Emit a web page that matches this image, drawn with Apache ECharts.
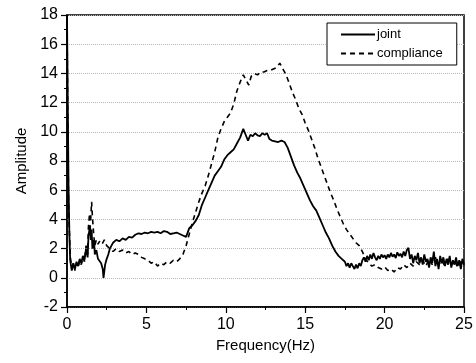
<!DOCTYPE html>
<html><head><meta charset="utf-8">
<script src="https://cdn.jsdelivr.net/npm/echarts@6/dist/echarts.min.js"></script>
<style>html,body{margin:0;padding:0;background:#fff}#c{width:476px;height:363px}</style>
</head><body><div id="c"></div>
<script>
var seriesNames = ['joint', 'compliance'];
var xTicks = [0, 5, 10, 15, 20, 25];
var yTicks = [-2, 0, 2, 4, 6, 8, 10, 12, 14, 16, 18];

var jointFreq = [0,0.05,0.1,0.15,0.2,0.3,0.4,0.5,0.6,0.7,0.8,0.9,1.0,1.1,1.2,1.3,1.35,1.45,1.5,1.55,1.6,1.7,1.75,1.85,1.95,2.05,2.15,2.25,2.3,2.4,2.5,2.6,2.7,2.8,2.9,3.0,3.1,3.3,3.5,3.7,3.9,4.1,4.3,4.5,4.7,4.9,5.1,5.3,5.5,5.7,5.9,6.1,6.3,6.5,6.7,6.9,7.1,7.3,7.5,7.6,7.7,7.9,8.1,8.3,8.5,8.7,8.9,9.1,9.3,9.5,9.7,9.9,10.1,10.3,10.5,10.7,10.9,11.1,11.25,11.4,11.55,11.7,11.85,12.0,12.15,12.3,12.45,12.6,12.75,12.9,13.1,13.3,13.5,13.7,13.9,14.1,14.3,14.5,14.7,14.9,15.1,15.3,15.5,15.7,15.9,16.1,16.3,16.5,16.7,16.9,17.1,17.3,17.5,17.6,17.7,17.8,17.9,18.0,18.1,18.2,18.3,18.4,18.5,18.6,18.7,18.8,18.9,19.0,19.1,19.2,19.3,19.4,19.5,19.6,19.7,19.8,19.9,20.0,20.1,20.2,20.3,20.4,20.5,20.6,20.7,20.8,20.9,21.0,21.1,21.2,21.3,21.4,21.5,21.6,21.7,21.8,21.9,22.0,22.1,22.2,22.3,22.4,22.5,22.6,22.7,22.8,22.9,23.0,23.1,23.2,23.3,23.4,23.5,23.6,23.7,23.8,23.9,24.0,24.1,24.2,24.3,24.4,24.5,24.6,24.7,24.8,24.9,25.0];
var jointAmp = [18,12,6,3,1.2,0.5,1.0,0.6,1.1,0.8,1.3,1.0,1.5,1.2,2.0,1.4,2.8,3.6,2.6,3.3,2.0,2.6,1.6,1.9,1.3,1.4,1.0,0.6,0.0,0.9,1.3,1.6,2.0,2.2,2.4,2.3,2.6,2.5,2.7,2.6,2.8,2.75,2.95,3.05,3.0,3.1,3.05,3.15,3.1,3.15,3.05,3.2,3.15,3.0,3.05,3.1,3.0,2.9,2.8,2.9,3.4,3.6,3.9,4.3,5.0,5.5,6.0,6.5,7.0,7.3,7.6,8.1,8.4,8.6,8.8,9.2,9.6,10.2,9.8,9.4,9.8,9.7,9.9,9.75,9.7,9.9,9.8,9.9,9.5,9.4,9.35,9.3,9.4,9.3,8.9,8.3,7.7,7.2,6.8,6.3,5.8,5.3,4.9,4.6,4.1,3.6,3.1,2.7,2.2,1.8,1.5,1.3,1.1,0.8,1.0,0.7,1.0,0.8,0.6,0.9,0.65,1.0,0.8,1.2,1.4,1.1,1.5,1.2,1.6,1.3,1.7,1.4,1.2,1.5,1.3,1.6,1.4,1.55,1.3,1.6,1.4,1.7,1.45,1.6,1.35,1.75,1.5,1.65,1.4,1.8,1.5,1.9,2.05,1.3,1.6,1.0,1.5,1.2,1.7,1.0,1.4,0.9,1.6,1.1,1.3,0.7,1.4,1.0,1.8,0.8,1.3,0.6,1.5,1.0,1.4,0.8,1.3,0.9,1.5,0.7,1.2,0.9,1.4,0.8,1.2,0.6,1.3,0.9];

var compFreq = [0,0.05,0.1,0.2,0.3,0.4,0.5,0.6,0.7,0.8,0.9,1.0,1.1,1.2,1.3,1.35,1.42,1.48,1.55,1.6,1.68,1.75,1.85,1.95,2.05,2.2,2.35,2.5,2.7,2.9,3.1,3.3,3.5,3.7,3.9,4.1,4.3,4.5,4.7,4.9,5.1,5.3,5.5,5.7,5.9,6.1,6.3,6.5,6.7,6.9,7.1,7.3,7.5,7.7,7.9,8.1,8.3,8.5,8.7,8.9,9.1,9.3,9.5,9.7,9.9,10.1,10.3,10.5,10.7,10.9,11.1,11.3,11.45,11.6,11.8,12.0,12.2,12.4,12.6,12.8,13.0,13.2,13.4,13.6,13.8,14.0,14.2,14.4,14.6,14.8,15.0,15.2,15.4,15.6,15.8,16.0,16.2,16.4,16.6,16.8,17.0,17.2,17.4,17.6,17.8,18.0,18.2,18.4,18.6,18.8,19.0,19.2,19.4,19.6,19.8,20.0,20.2,20.4,20.6,20.8,21.0,21.2,21.4,21.6,21.8,22.0,22.2,22.4,22.6,22.8,23.0,23.2,23.4,23.6,23.8,24.0,24.2,24.4,24.6,24.8,25.0];
var compAmp = [18,10,5,1.5,0.7,1.0,0.5,1.0,0.7,1.2,0.9,1.4,1.1,2.2,1.6,3.5,4.4,3.8,5.2,4.2,3.0,2.2,2.6,2.3,2.5,2.3,2.6,2.2,2.0,1.8,2.0,1.8,1.9,1.7,1.8,1.6,1.7,1.6,1.4,1.3,1.2,1.0,1.1,0.8,1.0,0.9,1.1,1.0,1.2,1.1,1.3,1.6,2.2,3.0,3.8,4.5,5.2,5.8,6.3,7.0,7.8,8.6,9.6,10.2,10.7,11.0,11.3,11.9,12.8,13.4,13.9,13.5,13.2,13.8,14.0,13.9,14.1,14.1,14.2,14.2,14.3,14.4,14.7,14.3,13.9,13.3,12.7,12.2,11.6,11.2,10.6,10.1,9.5,8.9,8.2,7.6,7.0,6.4,5.8,5.3,4.7,4.2,3.7,3.3,3.0,2.7,2.4,2.2,1.8,1.3,1.0,0.8,0.9,0.7,0.6,0.75,0.5,0.6,0.4,0.7,0.6,0.9,0.7,1.0,0.8,1.1,0.9,1.2,0.8,1.3,0.9,1.4,0.9,1.2,0.8,1.3,0.9,1.2,0.7,1.1,0.8];

function pairs(xs, ys){ return xs.map(function(x,i){ return [x, ys[i]]; }); }

var font = 'Liberation Sans, Arial, sans-serif';
var chart = echarts.init(document.getElementById('c'), null, {renderer:'canvas'});
chart.setOption({
  animation: false,
  backgroundColor: '#fff',
  grid: {left: 67, top: 15, right: 12, bottom: 56, show: true, borderColor: '#000', borderWidth: 1.5, backgroundColor: 'transparent'},
  legend: {
    show: true, orient: 'vertical', left: 327, top: 23,
    padding: [5, 14, 5, 13], itemGap: 6, itemWidth: 34, itemHeight: 12,
    borderColor: '#000', borderWidth: 1, backgroundColor: '#fff',
    itemStyle: {opacity: 0},
    textStyle: {fontFamily: font, fontSize: 13, color: '#000', padding: [0,0,0,-3]},
    data: seriesNames
  },
  xAxis: {
    type: 'value', min: xTicks[0], max: xTicks[xTicks.length-1], interval: 5,
    name: 'Frequency(Hz)', nameLocation: 'middle', nameGap: 31,
    nameTextStyle: {fontFamily: font, fontSize: 15, color: '#000'},
    axisLine: {show: true, onZero: false, lineStyle: {color: '#000', width: 1.5}},
    axisTick: {show: true, inside: false, length: 6, lineStyle: {color: '#000', width: 1.2}},
    minorTick: {show: true, splitNumber: 2, length: 3, lineStyle: {color: '#000'}},
    axisLabel: {fontFamily: font, fontSize: 16, color: '#000', margin: 10},
    splitLine: {show: false}
  },
  yAxis: {
    type: 'value', min: yTicks[0], max: yTicks[yTicks.length-1], interval: 2,
    name: 'Amplitude', nameLocation: 'middle', nameGap: 38, nameRotate: 90,
    nameTextStyle: {fontFamily: font, fontSize: 15, color: '#000'},
    axisLine: {show: true, onZero: false, lineStyle: {color: '#000', width: 1.5}},
    axisTick: {show: true, inside: false, length: 6, lineStyle: {color: '#000', width: 1.2}},
    minorTick: {show: true, splitNumber: 2, length: 3, lineStyle: {color: '#000'}},
    axisLabel: {fontFamily: font, fontSize: 16, color: '#000', margin: 9},
    splitLine: {show: true, lineStyle: {color: '#b8b8b8', type: 'dotted', width: 1}}
  },
  series: [
    {name: seriesNames[0], type: 'line', showSymbol: false, symbol: 'none',
     data: pairs(jointFreq, jointAmp),
     lineStyle: {color: '#000', width: 1.8}, itemStyle: {color: '#000'}},
    {name: seriesNames[1], type: 'line', showSymbol: false, symbol: 'none',
     data: pairs(compFreq, compAmp),
     lineStyle: {color: '#000', width: 1.6, type: [5, 4]}, itemStyle: {color: '#000'}}
  ]
});
</script></body></html>
